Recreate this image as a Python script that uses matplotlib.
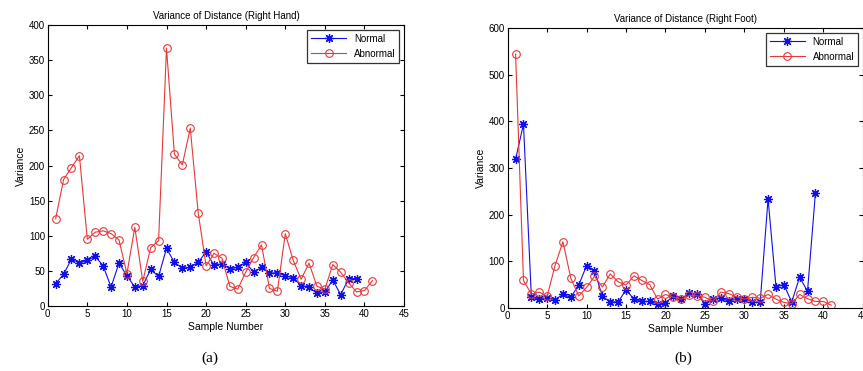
import numpy as np
import matplotlib.pyplot as plt

plt.rcParams['font.family'] = ['Liberation Sans', 'DejaVu Sans']

# Right hand variance
hand_normal = [32, 45, 67, 61, 65, 71, 57, 27, 61, 43, 27, 29, 52, 42, 82, 62, 54, 55, 62, 77,
               58, 60, 53, 55, 62, 48, 55, 47, 47, 43, 40, 29, 27, 18, 20, 37, 16, 39, 39]
hand_abnormal = [124, 180, 197, 214, 95, 105, 107, 103, 94, 46, 112, 35, 83, 93, 367, 216, 201, 253, 133, 57,
                 75, 68, 28, 24, 48, 69, 87, 25, 21, 103, 65, 38, 61, 28, 24, 59, 48, 33, 20, 22, 36]

# Right foot variance
foot_normal = [319, 394, 23, 19, 21, 18, 29, 23, 49, 91, 80, 25, 13, 13, 39, 19, 14, 14, 9, 11,
               26, 20, 32, 29, 9, 19, 22, 14, 20, 19, 13, 12, 234, 46, 50, 13, 66, 36, 246]
foot_abnormal = [544, 59, 30, 34, 25, 91, 142, 64, 26, 44, 68, 45, 73, 56, 49, 69, 59, 50, 19, 29,
                 23, 19, 27, 26, 23, 14, 34, 31, 24, 19, 23, 21, 29, 19, 12, 9, 29, 20, 14, 14, 6]

panels = [
    ('Variance of Distance (Right Hand)', hand_normal, hand_abnormal, 400, 50, '(a)'),
    ('Variance of Distance (Right Foot)', foot_normal, foot_abnormal, 600, 100, '(b)'),
]
rects = [[0.0553, 0.1752, 0.4129, 0.7574], [0.5883, 0.1698, 0.4114, 0.7547]]
tag_x = [210 / 863, 683 / 863]

fig = plt.figure(figsize=(8.63, 3.71), dpi=100)
for (title, normal, abnormal, ymax, ystep, tag), rect, tx in zip(panels, rects, tag_x):
    ax = fig.add_axes(rect)
    xn = np.arange(1, len(normal) + 1)
    xa = np.arange(1, len(abnormal) + 1)
    # matlab style asterisk marker
    ax.plot(xn, normal, '-', marker=(8, 2, 0), color='#1010e8', lw=0.8, ms=6.5, mew=0.9, label='Normal')
    ax.plot(xa, abnormal, '-o', color='#e83838', lw=0.8, ms=5.5, mfc='none', mew=0.8, label='Abnormal')
    ax.set_xlim(0, 45)
    ax.set_ylim(0, ymax)
    ax.set_xticks(np.arange(0, 46, 5))
    ax.set_yticks(np.arange(0, ymax + 1, ystep))
    ax.tick_params(direction='in', top=True, right=True, labelsize=7, length=3, pad=2)
    for s in ax.spines.values():
        s.set_linewidth(0.8)
    ax.set_title(title, fontsize=7, pad=4)
    ax.set_xlabel('Sample Number', fontsize=7.5, labelpad=2)
    ax.set_ylabel('Variance', fontsize=7.5, labelpad=2)
    leg = ax.legend(loc='upper right', fontsize=7, fancybox=False, framealpha=1,
                    edgecolor='#333333', borderaxespad=0.5, handlelength=3.6)
    leg.get_frame().set_linewidth(0.9)
    fig.text(tx, 1 - 358 / 371, tag, ha='center', va='center',
             fontsize=11, family='Liberation Serif')

fig.savefig('out.png', dpi=100)
